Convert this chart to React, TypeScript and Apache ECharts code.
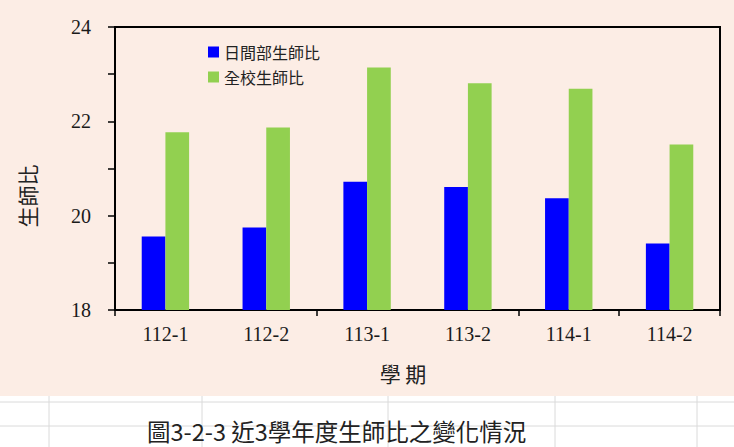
import React, { useEffect, useRef } from "react";
import * as echarts from "echarts";

const categories = ["112-1", "112-2", "113-1", "113-2", "114-1", "114-2"];
const dayRatio = [19.56, 19.75, 20.72, 20.61, 20.37, 19.41];
const schoolRatio = [21.77, 21.87, 23.14, 22.81, 22.69, 21.51];
const seriesNames = ["日間部生師比", "全校生師比"];
const yTicks = { min: 18, max: 24, interval: 1 };
const caption = "圖3-2-3 近3學年度生師比之變化情況";
const xName = "學 期";
const yName = "生師比";

const hLines = [402, 426];
const vLines = [49, 202, 388, 555, 697];

export default function App() {
  const ref = useRef<HTMLDivElement>(null);
  useEffect(() => {
    if (!ref.current) return;
    const chart = echarts.init(ref.current, undefined, { renderer: "svg" });
    const cjk = '"Noto Sans CJK TC", "Noto Sans", sans-serif';
    const serif = '"Liberation Serif", "DejaVu Serif", serif';
    const graphics: any[] = [
      {
        type: "rect",
        shape: { x: 0, y: 0, width: 734, height: 396 },
        style: { fill: "#FCEDE5" },
        silent: true,
        z: -10,
      },
    ];
    hLines.forEach((y) =>
      graphics.push({
        type: "line",
        shape: { x1: 0, y1: y, x2: 734, y2: y },
        style: { stroke: "#DADADA", lineWidth: 1 },
        silent: true,
      })
    );
    vLines.forEach((x) =>
      graphics.push({
        type: "line",
        shape: { x1: x, y1: 396, x2: x, y2: 447 },
        style: { stroke: "#DADADA", lineWidth: 1 },
        silent: true,
      })
    );
    graphics.push({
      type: "text",
      x: 147,
      y: 431,
      style: {
        text: caption,
        fontFamily: cjk,
        fontSize: 23.5,
        fill: "#222",
        textAlign: "left",
        textVerticalAlign: "middle",
      },
    });
    graphics.push({
      type: "text",
      x: 403,
      y: 373,
      style: {
        text: xName,
        fontFamily: cjk,
        fontSize: 21,
        fill: "#222",
        textAlign: "center",
        textVerticalAlign: "middle",
      },
    });
    graphics.push({
      type: "text",
      x: 27,
      y: 196,
      rotation: Math.PI / 2,
      style: {
        text: yName,
        fontFamily: cjk,
        fontSize: 21,
        fill: "#222",
        textAlign: "center",
        textVerticalAlign: "middle",
      },
    });

    chart.setOption({
      animation: false,
      backgroundColor: "#FFFFFF",
      graphic: graphics,
      legend: {
        orient: "vertical",
        left: 203,
        top: 39,
        itemWidth: 11,
        itemHeight: 11,
        itemGap: 9,
        icon: "rect",
        data: seriesNames,
        textStyle: { fontFamily: cjk, fontSize: 16, color: "#222" },
      },
      grid: {
        left: 115,
        right: 14,
        top: 27,
        bottom: 137,
        show: true,
        borderColor: "#000",
        borderWidth: 2,
        backgroundColor: "transparent",
      },
      xAxis: {
        type: "category",
        data: categories,
        axisLine: { show: true, lineStyle: { color: "#000", width: 2 } },
        axisTick: { show: true, interval: 1, length: 6, lineStyle: { color: "#000", width: 1.5 } },
        axisLabel: {
          interval: 0,
          margin: 14,
          fontFamily: serif,
          fontSize: 20,
          color: "#1a1a1a",
        },
        splitLine: { show: false },
      },
      yAxis: {
        type: "value",
        min: yTicks.min,
        max: yTicks.max,
        interval: yTicks.interval,
        axisLine: { show: true, lineStyle: { color: "#000", width: 2 } },
        axisTick: { show: true, length: 7, lineStyle: { color: "#000", width: 1.5 } },
        axisLabel: {
          margin: 24,
          fontFamily: serif,
          fontSize: 20,
          color: "#1a1a1a",
          formatter: (v: number) => (v % 2 === 0 ? String(v) : ""),
        },
        splitLine: { show: false },
      },
      series: [
        {
          name: seriesNames[0],
          type: "bar",
          data: dayRatio,
          barGap: "0%",
          barCategoryGap: "53%",
          itemStyle: { color: "#0000FF" },
        },
        {
          name: seriesNames[1],
          type: "bar",
          data: schoolRatio,
          barGap: "0%",
          barCategoryGap: "53%",
          itemStyle: { color: "#92D050" },
        },
      ],
    });
    return () => chart.dispose();
  }, []);
  return (
    <div
      ref={ref}
      style={{ position: "absolute", left: 0, top: 0, width: 734, height: 447 }}
    />
  );
}
